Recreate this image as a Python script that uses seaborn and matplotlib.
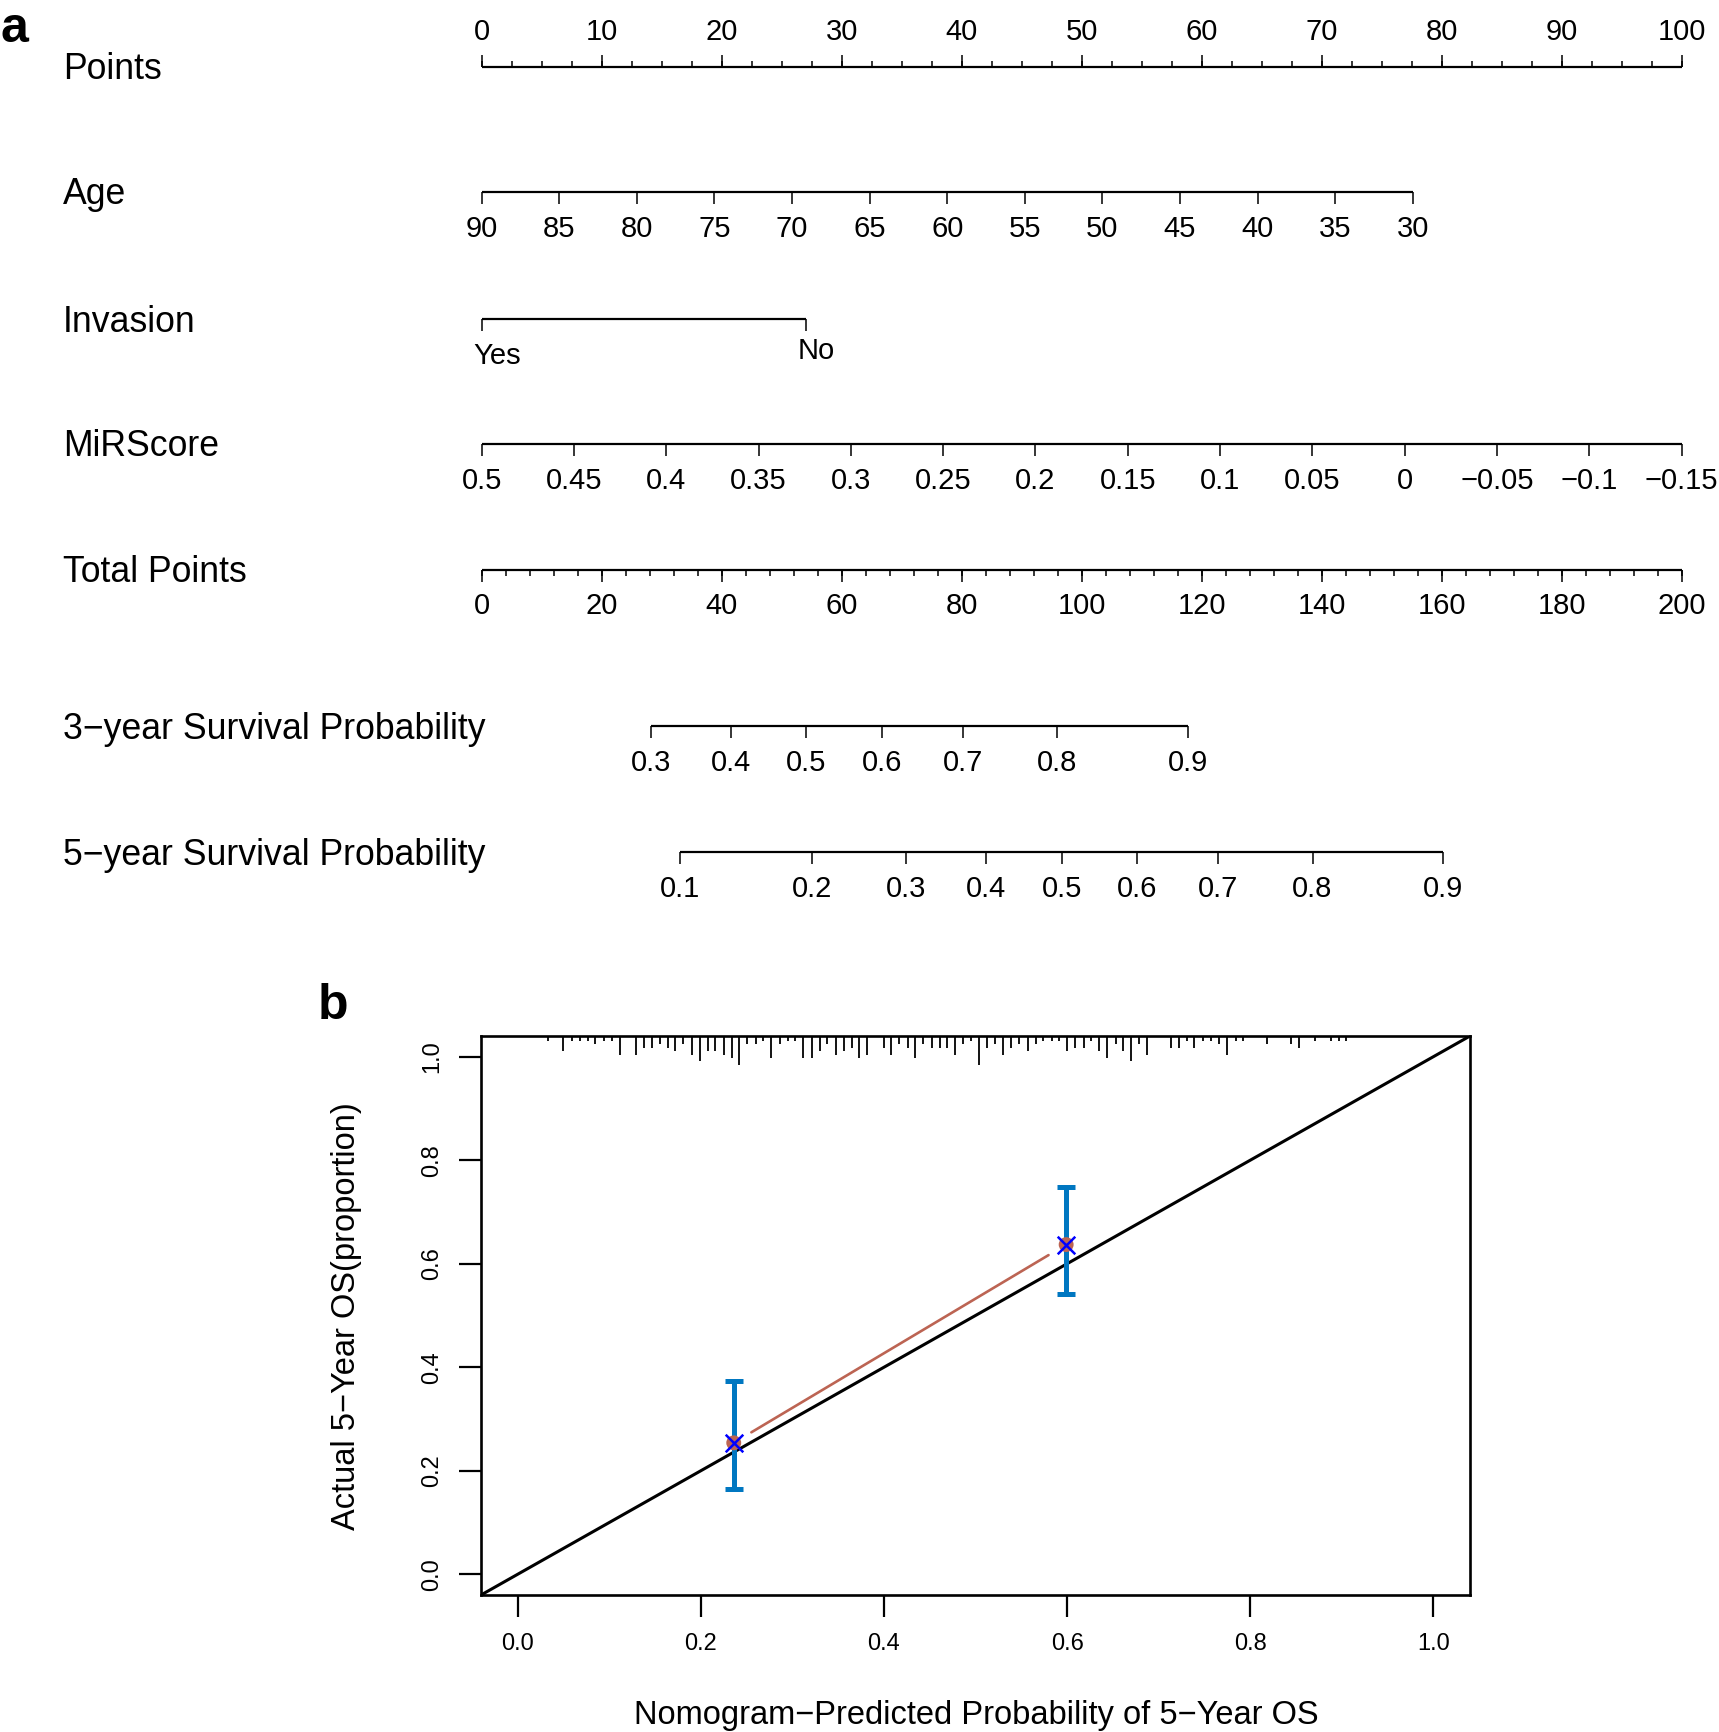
import numpy as np
import matplotlib
matplotlib.use("Agg")
import matplotlib.pyplot as plt
import matplotlib.transforms as mtransforms
import seaborn as sns

# ---------------- panel a: nomogram scales ----------------
points_major = list(range(0, 101, 10))
points_minor = list(np.arange(0, 100.01, 2.5))

age_values = [90, 85, 80, 75, 70, 65, 60, 55, 50, 45, 40, 35, 30]
age_max_points = 77.6  # points for age 30

invasion_levels = ["Yes", "No"]
invasion_points = [0.0, 27.0]

mirscore_values = [0.5, 0.45, 0.4, 0.35, 0.3, 0.25, 0.2, 0.15, 0.1, 0.05, 0.0, -0.05, -0.1, -0.15]
mirscore_labels = ["0.5", "0.45", "0.4", "0.35", "0.3", "0.25", "0.2", "0.15", "0.1",
                   "0.05", "0", "\u22120.05", "\u22120.1", "\u22120.15"]

total_major = list(range(0, 201, 20))
total_minor = list(range(0, 201, 4))

surv3_labels = ["0.3", "0.4", "0.5", "0.6", "0.7", "0.8", "0.9"]
surv3_total = [28.2, 41.6, 54.1, 66.7, 80.3, 95.9, 117.7]

surv5_labels = ["0.1", "0.2", "0.3", "0.4", "0.5", "0.6", "0.7", "0.8", "0.9"]
surv5_total = [33.1, 55.1, 70.7, 84.0, 96.7, 109.2, 122.7, 138.5, 160.2]

# ---------------- panel b: calibration ----------------
pred = np.array([0.236, 0.599])
obs = np.array([0.254, 0.637])
ci_low = np.array([0.164, 0.542])
ci_high = np.array([0.373, 0.748])

# distribution of predicted risk (rug at the top), position and count
risk_x = [0.033, 0.050, 0.059, 0.068, 0.077, 0.085, 0.094, 0.103, 0.112, 0.129,
          0.138, 0.147, 0.155, 0.164, 0.172, 0.181, 0.190, 0.199, 0.208, 0.216,
          0.225, 0.234, 0.242, 0.251, 0.260, 0.268, 0.277, 0.286, 0.295, 0.303,
          0.312, 0.321, 0.330, 0.338, 0.348, 0.356, 0.365, 0.373, 0.382, 0.400,
          0.408, 0.417, 0.426, 0.434, 0.443, 0.452, 0.461, 0.469, 0.478, 0.486,
          0.495, 0.504, 0.513, 0.521, 0.530, 0.539, 0.548, 0.557, 0.566, 0.574,
          0.583, 0.591, 0.600, 0.609, 0.618, 0.626, 0.635, 0.644, 0.653, 0.661,
          0.670, 0.679, 0.687, 0.714, 0.722, 0.731, 0.739, 0.748, 0.757, 0.766,
          0.775, 0.784, 0.792, 0.818, 0.844, 0.853, 0.871, 0.888, 0.897, 0.905]
risk_n = [1, 4, 1, 1, 1, 2, 1, 1, 5, 5,
          3, 3, 2, 3, 4, 2, 5, 7, 4, 4,
          5, 6, 8, 2, 2, 1, 6, 2, 1, 1,
          6, 6, 4, 2, 5, 4, 3, 6, 5, 3,
          5, 2, 3, 6, 2, 3, 3, 3, 5, 2,
          1, 8, 3, 2, 5, 3, 2, 4, 2, 1,
          1, 1, 4, 3, 3, 1, 4, 6, 2, 4,
          7, 2, 5, 3, 3, 1, 3, 1, 1, 2,
          5, 1, 1, 2, 2, 3, 1, 1, 1, 1]

sns.set_theme(style="white")
plt.rcParams["font.family"] = ["Liberation Sans", "DejaVu Sans"]
plt.rcParams["text.color"] = "black"
plt.rcParams["axes.labelcolor"] = "black"
plt.rcParams["xtick.color"] = "black"
plt.rcParams["ytick.color"] = "black"

W, H = 1719, 1732
fig = plt.figure(figsize=(W / 100, H / 100), dpi=100)
fig.patch.set_facecolor("white")

# nomogram axes: x in points, y in pixels from the top
A_H = 930
px_per_pt = (1681.5 - 481.7) / 100
ax_a = fig.add_axes([0, 1 - A_H / H, 1, A_H / H])
ax_a.set_xlim(-481.7 / px_per_pt, (W - 481.7) / px_per_pt)
ax_a.set_ylim(A_H, 0)
ax_a.set_axis_off()

TICK_FS = 21
ROW_FS = 25.7
LINE_LW = 1.6
TICK_LW = 1.1


def draw_scale(y, pos, labels, minor=None, up=False, label_off=37, major_len=11.5, minor_len=6):
    s = -1 if up else 1
    ax_a.hlines(y, min(pos), max(pos), color="black", lw=LINE_LW)
    ax_a.vlines(pos, y, y + s * major_len, color="black", lw=TICK_LW)
    if minor is not None:
        ax_a.vlines(minor, y, y + s * minor_len, color="black", lw=TICK_LW)
    if labels is not None:
        for p, lab in zip(pos, labels):
            ax_a.text(p, y + s * label_off, lab, ha="center", va="center", fontsize=TICK_FS)


row_tr = mtransforms.blended_transform_factory(fig.transFigure, ax_a.transData)


def row_label(y, text):
    ax_a.text(63 / W, y + 3, text, transform=row_tr, ha="left", va="center", fontsize=ROW_FS)


rows_y = {"Points": 66.5, "Age": 192, "Invasion": 319, "MiRScore": 444,
          "Total Points": 569.5, "3\u2212year Survival Probability": 726,
          "5\u2212year Survival Probability": 852}
for name, y in rows_y.items():
    row_label(y, name)

# Points
draw_scale(rows_y["Points"], points_major, [str(v) for v in points_major],
           minor=points_minor, up=True, label_off=35, major_len=11.7, minor_len=5.7)

# Age
age_pts = [(90 - a) / 60 * age_max_points for a in age_values]
draw_scale(rows_y["Age"], age_pts, [str(a) for a in age_values])

# Invasion
y_inv = rows_y["Invasion"]
draw_scale(y_inv, invasion_points, None)
for p, lab, dy in zip(invasion_points, invasion_levels, [37, 32]):
    ax_a.text(p - 8 / px_per_pt, y_inv + dy, lab, ha="left", va="center", fontsize=TICK_FS)

# MiRScore
mir_pts = [(0.5 - v) / 0.65 * 100 for v in mirscore_values]
draw_scale(rows_y["MiRScore"], mir_pts, mirscore_labels)

# Total points
draw_scale(rows_y["Total Points"], [v / 2 for v in total_major], [str(v) for v in total_major],
           minor=[v / 2 for v in total_minor], major_len=12.4, minor_len=6.4)

# survival probabilities
draw_scale(rows_y["3\u2212year Survival Probability"], [t / 2 for t in surv3_total], surv3_labels)
draw_scale(rows_y["5\u2212year Survival Probability"], [t / 2 for t in surv5_total], surv5_labels)

fig.text(1 / W, 1 - 29 / H, "a", ha="left", va="center", fontsize=36, fontweight="bold")
fig.text(318 / W, 1 - 1006 / H, "b", ha="left", va="center", fontsize=36, fontweight="bold")

# ---------------- calibration plot ----------------
L, R, T, B = 481, 1470, 1036, 1595
ax_b = fig.add_axes([L / W, 1 - B / H, (R - L) / W, (B - T) / H])
ax_b.set_facecolor("white")
ax_b.set_xlim(-0.04, 1.04)
ax_b.set_ylim(-0.04, 1.04)
ticks = [0.0, 0.2, 0.4, 0.6, 0.8, 1.0]
ax_b.set_xticks(ticks)
ax_b.set_yticks(ticks)
ax_b.set_xticklabels([f"{t:.1f}" for t in ticks])
ax_b.set_yticklabels([f"{t:.1f}" for t in ticks], rotation=90, va="center")
ax_b.tick_params(axis="both", direction="out", length=15.5, width=1.6, color="black",
                 labelsize=17, labelcolor="black", pad=12, bottom=True, left=True)
for sp in ax_b.spines.values():
    sp.set_color("black")
    sp.set_linewidth(1.9)
ax_b.grid(False)

# ideal line
ax_b.axline((0, 0), slope=1, color="black", lw=2.2, zorder=2)

# risk distribution rug from the top
unit = 0.00656
ax_b.vlines(risk_x, 1.04, [1.04 - unit * (n + 0.5) for n in risk_n],
            color="black", lw=1.3, zorder=3)

# observed line with gaps near the points
red = "#BC6453"
gap = 0.053
d = np.array([pred[1] - pred[0], obs[1] - obs[0]])
start = np.array([pred[0], obs[0]]) + gap * d
end = np.array([pred[1], obs[1]]) - gap * d
sns.lineplot(x=[start[0], end[0]], y=[start[1], end[1]], ax=ax_b, color=red, lw=1.9, zorder=3)

ax_b.errorbar(pred, obs, yerr=[obs - ci_low, ci_high - obs], fmt="none", ecolor="#0077C1",
              elinewidth=3.6, capsize=6.5, capthick=3.6, zorder=4)
sns.scatterplot(x=pred, y=obs, ax=ax_b, s=115, color=red, edgecolor="none", zorder=5)
ax_b.scatter(pred, obs, marker="x", s=160, color="#0000FF", linewidths=1.8, zorder=6)

ax_b.text(0.501, -0.2147, "Nomogram\u2212Predicted Probability of 5\u2212Year OS",
          transform=ax_b.transAxes, ha="center", va="center", fontsize=23.5)
ax_b.text((346 - L) / (R - L), 0.499, "Actual 5\u2212Year OS(proportion)",
          transform=ax_b.transAxes, ha="center", va="center", rotation=90, fontsize=23.5)

fig.savefig("out.png", dpi=100, facecolor="white")
